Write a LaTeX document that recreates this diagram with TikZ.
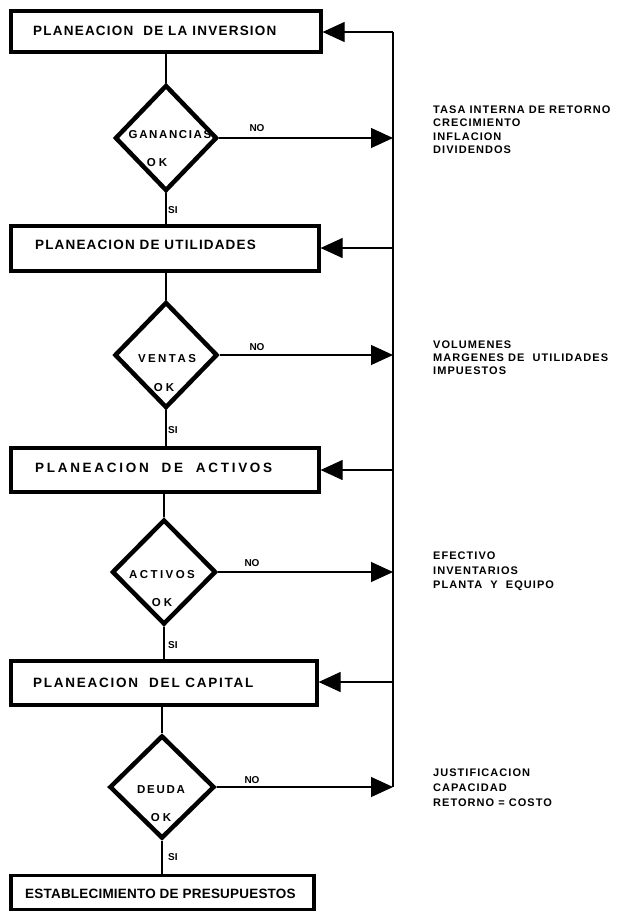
\documentclass[tikz,border=0pt]{standalone}
\usepackage{fontspec}
\setmainfont{Liberation Sans}
\usetikzlibrary{shapes.geometric,arrows.meta}
\newcommand\lsp[2]{{\addfontfeature{LetterSpace=#1}#2}}
\tikzset{
  boxnode/.style={draw, line width=3.2pt, inner sep=0pt},
  dianode/.style={draw, diamond, line width=4.5pt, inner sep=0pt},
  conn/.style={line width=1.1pt},
  fb/.style={line width=1.1pt, -{Triangle[length=22pt,width=20pt]}},
  boxtxt/.style={anchor=west, inner sep=0pt, font=\fontsize{13.5}{15}\selectfont\bfseries},
  dtxt/.style={inner sep=0pt, font=\fontsize{11.5}{13}\selectfont\bfseries},
  lbl/.style={inner sep=0pt, font=\fontsize{10}{12}\selectfont\bfseries},
  rtxt/.style={anchor=west, inner sep=0pt, font=\fontsize{11}{13}\selectfont\bfseries}
}
\begin{document}
\begin{tikzpicture}[x=1pt,y=-1pt]
\useasboundingbox (0,0) rectangle (619,916);
% boxes
\node[boxnode, minimum width=310pt, minimum height=41pt] (b1) at (166,31.5) {};
\node[boxnode, minimum width=308pt, minimum height=45pt] (b2) at (165,248.5) {};
\node[boxnode, minimum width=308pt, minimum height=44pt] (b3) at (165,470) {};
\node[boxnode, minimum width=306pt, minimum height=44pt] (b4) at (164,683) {};
\node[boxnode, minimum width=303pt, minimum height=34pt] (b5) at (162.5,892.5) {};
\node[boxtxt] (t1) at (33,31) {\lsp{9}{PLANEACION\ \ DE LA INVERSION}};
\node[boxtxt] (t2) at (35,245) {\lsp{8.5}{PLANEACION DE UTILIDADES}};
\node[boxtxt] (t3) at (35,468) {\lsp{20}{PLANEACION\ \ DE\ \ ACTIVOS}};
\node[boxtxt] (t4) at (33,683) {\lsp{13}{PLANEACION\ \ DEL CAPITAL}};
\node[boxtxt] (t5) at (25,894) {\lsp{1.5}{ESTABLECIMIENTO DE PRESUPUESTOS}};
% diamonds
\node[dianode, minimum width=102pt, minimum height=106pt] (d1) at (166,138) {};
\node[dianode, minimum width=103pt, minimum height=106pt] (d2) at (166,355) {};
\node[dianode, minimum width=104pt, minimum height=105pt] (d3) at (164,572) {};
\node[dianode, minimum width=105pt, minimum height=103pt] (d4) at (162,787) {};
\node[dtxt] (w1) at (170,135) {\lsp{14}{GANANCIAS}};
\node[dtxt] (o1) at (157,163) {\lsp{25}{OK}};
\node[dtxt] (w2) at (167,359) {\lsp{21}{VENTAS}};
\node[dtxt] (o2) at (164,388) {\lsp{25}{OK}};
\node[dtxt] (w3) at (162,575) {\lsp{21}{ACTIVOS}};
\node[dtxt] (o3) at (162,603) {\lsp{25}{OK}};
\node[dtxt] (w4) at (161,790) {\lsp{15}{DEUDA}};
\node[dtxt] (o4) at (161,818) {\lsp{25}{OK}};
% main flow
\draw[conn] (d1.north |- b1.south) -- (d1.north);
\draw[conn] (d1.south) -- (d1.south |- b2.north);
\draw[conn] (d2.north |- b2.south) -- (d2.north);
\draw[conn] (d2.south) -- (d2.south |- b3.north);
\draw[conn] (d3.north |- b3.south) -- (d3.north);
\draw[conn] (d3.south) -- (d3.south |- b4.north);
\draw[conn] (d4.north |- b4.south) -- (d4.north);
\draw[conn] (d4.south) -- (d4.south |- b5.north);
\node[lbl, anchor=west] (s1) at (168,210) {SI};
\node[lbl, anchor=west] (s2) at (168,430) {SI};
\node[lbl, anchor=west] (s3) at (168,645) {SI};
\node[lbl, anchor=west] (s4) at (168,857) {SI};
% feedback line
\coordinate (rtop) at (393,32);
\coordinate (rbot) at (393,787);
\draw[conn] (rtop) -- (rbot);
\coordinate (r1) at (393,32);
\coordinate (r2) at (393,248);
\coordinate (r3) at (393,470);
\coordinate (r4) at (393,682);
\draw[fb] (r1) -- (r1 -| b1.east);
\draw[fb] (r2) -- (r2 -| b2.east);
\draw[fb] (r3) -- (r3 -| b3.east);
\draw[fb] (r4) -- (r4 -| b4.east);
\draw[fb] (d1.east) -- (d1.east -| rtop);
\draw[fb] (d2.east) -- (d2.east -| rtop);
\draw[fb] (d3.east) -- (d3.east -| rtop);
\draw[fb] (d4.east) -- (d4.east -| rbot);
\node[lbl] (n1) at (257,128) {NO};
\node[lbl] (n2) at (257,347) {NO};
\node[lbl] (n3) at (252,563) {NO};
\node[lbl] (n4) at (252,780) {NO};
% right texts
\node[rtxt] (g11) at (433,110) {\lsp{9.5}{TASA INTERNA DE RETORNO}};
\node[rtxt] (g12) at (433,123) {\lsp{9.5}{CRECIMIENTO}};
\node[rtxt] (g13) at (433,137) {\lsp{9.5}{INFLACION}};
\node[rtxt] (g14) at (433,150) {\lsp{9.5}{DIVIDENDOS}};
\node[rtxt] (g21) at (433,345) {\lsp{9.5}{VOLUMENES}};
\node[rtxt] (g22) at (433,358) {\lsp{9.5}{MARGENES DE\ \ UTILIDADES}};
\node[rtxt] (g23) at (433,371) {\lsp{9.5}{IMPUESTOS}};
\node[rtxt] (g31) at (433,556) {\lsp{9.5}{EFECTIVO}};
\node[rtxt] (g32) at (433,571) {\lsp{9.5}{INVENTARIOS}};
\node[rtxt] (g33) at (433,586) {\lsp{9.5}{PLANTA\ \ Y\ \ EQUIPO}};
\node[rtxt] (g41) at (433,773) {\lsp{9.5}{JUSTIFICACION}};
\node[rtxt] (g42) at (433,788) {\lsp{9.5}{CAPACIDAD}};
\node[rtxt] (g43) at (433,803) {\lsp{9.5}{RETORNO = COSTO}};
\end{tikzpicture}
\end{document}
